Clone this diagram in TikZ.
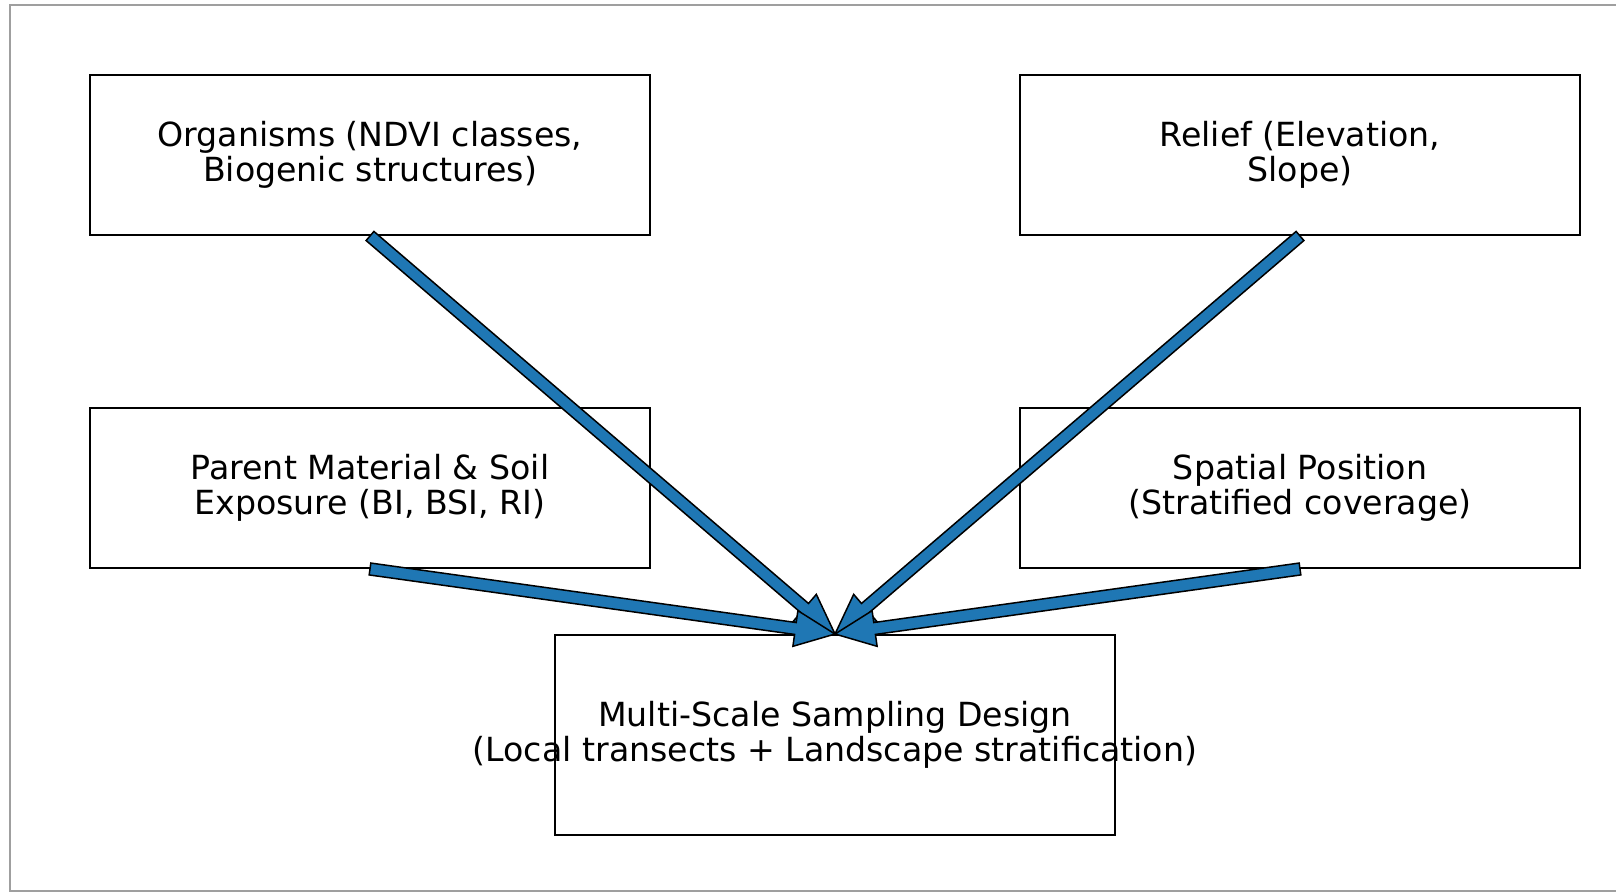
\documentclass[tikz,border=0pt]{standalone}
\usepackage{fontspec}
\setmainfont{DejaVu Sans}
\usepackage{tikz}
\usetikzlibrary{calc}
\definecolor{flowblue}{HTML}{1F77B4}
\tikzset{
  factor/.style = {draw=black, line width=0.04cm, rectangle, align=center, inner sep=0pt,
    minimum width=11.2cm, minimum height=3.2cm, font=\fontsize{18.9}{19.9}\selectfont},
  design_box/.style = {factor, minimum height=4cm},
  design_text/.style = {align=center, inner sep=0pt, font=\fontsize{18.9}{19.9}\selectfont},
  flow/.style = {fill=flowblue, draw=black, line width=0.03cm, line join=miter},
}
% fat arrow from #1 to #2
\newcommand{\fatarrow}[2]{%
  \coordinate (hb) at ($(#2)!0.8cm!(#1)$);
  \filldraw[flow] ($(#1)!0.12cm!90:(#2)$) -- ($(hb)!0.12cm!90:(#2)$) -- ($(hb)!0.36cm!90:(#2)$)
    -- (#2) -- ($(hb)!0.36cm!-90:(#2)$) -- ($(hb)!0.12cm!-90:(#2)$) -- ($(#1)!0.12cm!-90:(#2)$) -- cycle;
}

\begin{document}
\begin{tikzpicture}[x=0.02cm, y=-0.02cm]
  \useasboundingbox (0,0) rectangle (1616,893);
  \draw[gray!75, line width=0.04cm] (1616,5) -- (10,5) -- (10,891) -- (1616,891);

  \node [factor] (organisms) at (370,155) {Organisms (NDVI classes,\\Biogenic structures)};
  \node [factor] (relief) at (1300,155) {Relief (Elevation,\\Slope)};
  \node [factor] (parent) at (370,488) {Parent Material \& Soil\\Exposure (BI, BSI, RI)};
  \node [factor] (spatial) at (1300,488) {Spatial Position\\(Stratified coverage)};
  \node [design_box] (design) at (835,735) {};
  \node [design_text] (design_label) at (design.center) {Multi-Scale Sampling Design\\(Local transects + Landscape stratification)};

  \fatarrow{organisms.south}{design.north}
  \fatarrow{relief.south}{design.north}
  \fatarrow{parent.south}{design.north}
  \fatarrow{spatial.south}{design.north}
\end{tikzpicture}
\end{document}
